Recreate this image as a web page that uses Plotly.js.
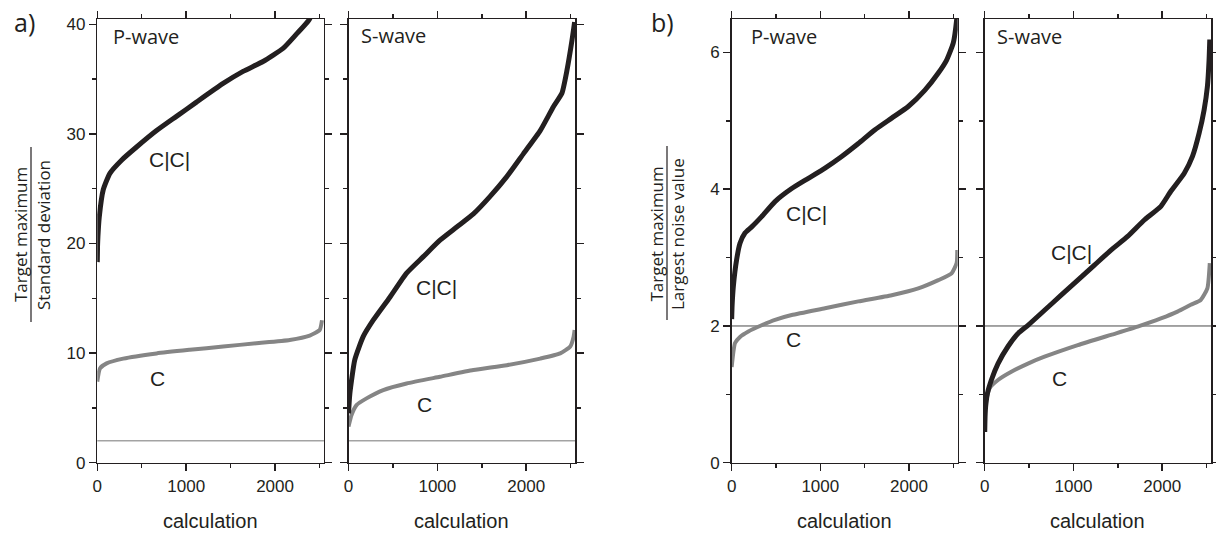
<!DOCTYPE html>
<html><head><meta charset="utf-8">
<script src="https://cdn.plot.ly/plotly-3.0.1.min.js"></script>
<style>html,body{margin:0;padding:0;background:#fff}#chart{width:1216px;height:534px}</style>
</head><body><div id="chart"></div>
<script>
// ---- Panel a: Target maximum / Standard deviation ----
const aP_CC_x = [0,3,7,22,67,142,273,442,667,891,1116,1416,1640,1865,2090,2240,2382,2450,2530];
const aP_CC_y = [18.3,19.8,20.6,22.4,24.9,26.4,27.6,28.8,30.3,31.6,32.9,34.6,35.7,36.6,37.8,39.1,40.4,41.8,45];
const aP_C_x  = [0,30,105,292,667,1041,1416,1790,2165,2390,2502,2528];
const aP_C_y  = [7.4,8.6,9.06,9.5,9.97,10.3,10.6,10.9,11.2,11.6,12.1,13.0];

const aS_CC_x = [0,15,71,165,278,466,654,842,1030,1218,1406,1594,1782,1970,2158,2308,2402,2459,2515,2545];
const aS_CC_y = [4.5,6.3,9.4,11.5,13.0,15.1,17.3,18.8,20.3,21.5,22.7,24.3,26.1,28.2,30.3,32.5,33.7,35.8,38.5,40.2];
const aS_C_x  = [0,34,90,203,391,654,1030,1406,1782,2158,2383,2496,2534,2545];
const aS_C_y  = [3.3,4.35,5.26,5.87,6.63,7.23,7.84,8.45,8.9,9.5,9.97,10.6,11.5,12.1];

// ---- Panel b: Target maximum / Largest noise value ----
const bP_CC_x = [0,5,19,56,94,150,226,338,489,677,865,1053,1241,1429,1617,1805,1992,2180,2331,2425,2500,2538,2550];
const bP_CC_y = [2.1,2.3,2.58,2.97,3.21,3.36,3.45,3.6,3.82,4.01,4.16,4.31,4.48,4.67,4.87,5.04,5.21,5.45,5.7,5.89,6.14,6.48,6.7];
const bP_C_x  = [0,38,94,188,338,489,677,1053,1429,1805,2105,2331,2481,2538,2545];
const bP_C_y  = [1.4,1.75,1.84,1.92,2.01,2.09,2.16,2.26,2.36,2.45,2.55,2.67,2.77,2.92,3.11];

const bS_CC_x = [0,7,30,75,150,262,375,487,674,861,1049,1236,1423,1610,1798,1985,2097,2247,2341,2416,2472,2509,2528,2536];
const bS_CC_y = [0.45,0.77,1.01,1.21,1.45,1.70,1.89,2.01,2.23,2.45,2.67,2.89,3.11,3.31,3.55,3.75,3.97,4.23,4.48,4.82,5.16,5.5,5.89,6.19];
const bS_C_x  = [0,19,56,150,300,487,674,1049,1423,1723,1985,2172,2322,2434,2509,2536];
const bS_C_y  = [0.62,0.92,1.09,1.21,1.33,1.45,1.55,1.72,1.87,1.99,2.11,2.21,2.31,2.38,2.55,2.92];

const thresholdA = 2;
const thresholdB = 2;
const xTicks = [0,1000,2000];

const INK = '#231f20', GREY = '#858585';
function ccTrace(x, y, xa, ya){ return {x, y, xaxis:xa, yaxis:ya, mode:'lines', line:{color:INK, width:5, shape:'spline', smoothing:0.5}, hoverinfo:'skip', showlegend:false}; }
function cTrace(x, y, xa, ya){ return {x, y, xaxis:xa, yaxis:ya, mode:'lines', line:{color:GREY, width:4, shape:'spline', smoothing:0.5}, hoverinfo:'skip', showlegend:false}; }

const data = [
  cTrace(aP_C_x, aP_C_y, 'x', 'y'),   ccTrace(aP_CC_x, aP_CC_y, 'x', 'y'),
  cTrace(aS_C_x, aS_C_y, 'x2', 'y2'), ccTrace(aS_CC_x, aS_CC_y, 'x2', 'y2'),
  cTrace(bP_C_x, bP_C_y, 'x3', 'y3'), ccTrace(bP_CC_x, bP_CC_y, 'x3', 'y3'),
  cTrace(bS_C_x, bS_C_y, 'x4', 'y4'), ccTrace(bS_CC_x, bS_CC_y, 'x4', 'y4')
];

const tickFont = {family:'Liberation Sans, Arial, sans-serif', size:17, color:INK};
function xAx(dom, anchor){ return {domain:dom, anchor, range:[0,2550], tickvals:xTicks, ticktext:xTicks.map(String),
  ticks:'outside', ticklen:7, tickwidth:1.5, tickcolor:INK,
  minor:{tickvals:[500,1500,2500], ticks:'outside', ticklen:4, tickwidth:1.5, tickcolor:INK},
  showline:true, linewidth:1.5, linecolor:INK, mirror:'ticks', showgrid:false, zeroline:false, tickfont:tickFont, fixedrange:true}; }
function yAx(anchor, range, dtick, mdtick, labels){ return {domain:[0.1335,0.9644], anchor, range, dtick, tick0:0,
  ticks:'outside', ticklen:7, tickwidth:1.5, tickcolor:INK,
  minor:{dtick:mdtick, ticks:'outside', ticklen:4, tickwidth:1.5, tickcolor:INK},
  showline:true, linewidth:1.5, linecolor:INK, mirror:'ticks', showgrid:false, zeroline:false,
  showticklabels:labels, tickfont:tickFont, fixedrange:true}; }

const lblFont = {family:'Open Sans, sans-serif', size:20, color:INK};
const cFont = {family:'Liberation Sans, Arial, sans-serif', size:21, color:INK};
const titFont = {family:'Open Sans, sans-serif', size:17, color:INK};
const xtFont = {family:'Liberation Sans, Arial, sans-serif', size:20, color:INK};

function ann(text, x, y, xref, yref, font, xanchor, extra){ return Object.assign({text, x, y, xref, yref, font, xanchor:xanchor||'center', yanchor:'middle', showarrow:false}, extra||{}); }

const annotations = [
  ann('a)', 24/1216, 1-22/534, 'paper', 'paper', {family:'Open Sans, sans-serif', size:25, color:INK}),
  ann('b)', 662/1216, 1-22/534, 'paper', 'paper', {family:'Open Sans, sans-serif', size:25, color:INK}),
  ann('P-wave', 150, 38.9, 'x', 'y', lblFont, 'left'),
  ann('C|C|', 807, 27.7, 'x', 'y', cFont),
  ann('C', 672, 7.7, 'x', 'y', cFont),
  ann('S-wave', 122, 39.0, 'x2', 'y2', lblFont, 'left'),
  ann('C|C|', 988, 16.0, 'x2', 'y2', cFont),
  ann('C', 859, 5.35, 'x2', 'y2', cFont),
  ann('P-wave', 190, 6.23, 'x3', 'y3', lblFont, 'left'),
  ann('C|C|', 843, 3.65, 'x3', 'y3', cFont),
  ann('C', 702, 1.80, 'x3', 'y3', cFont),
  ann('S-wave', 115, 6.24, 'x4', 'y4', lblFont, 'left'),
  ann('C|C|', 979, 3.07, 'x4', 'y4', cFont),
  ann('C', 843, 1.23, 'x4', 'y4', cFont),
  ann('Target maximum', 20/1216, 1-235/534, 'paper', 'paper', titFont, 'center', {textangle:-90}),
  ann('Standard deviation', 43/1216, 1-235/534, 'paper', 'paper', titFont, 'center', {textangle:-90}),
  ann('Target maximum', 656.5/1216, 1-234/534, 'paper', 'paper', titFont, 'center', {textangle:-90}),
  ann('Largest noise value', 678/1216, 1-234/534, 'paper', 'paper', titFont, 'center', {textangle:-90}),
  ann('calculation', 0.5, 1-521/534, 'x domain', 'paper', xtFont),
  ann('calculation', 0.5, 1-521/534, 'x2 domain', 'paper', xtFont),
  ann('calculation', 0.5, 1-521/534, 'x3 domain', 'paper', xtFont),
  ann('calculation', 0.5, 1-521/534, 'x4 domain', 'paper', xtFont)
];

const shapes = [
  {type:'line', xref:'x domain', yref:'y', x0:0, x1:1, y0:thresholdA, y1:thresholdA, line:{color:'#a3a3a3', width:1.5}, layer:'below'},
  {type:'line', xref:'x2 domain', yref:'y2', x0:0, x1:1, y0:thresholdA, y1:thresholdA, line:{color:'#a3a3a3', width:1.5}, layer:'below'},
  {type:'line', xref:'x3 domain', yref:'y3', x0:0, x1:1, y0:thresholdB, y1:thresholdB, line:{color:'#4a4a4a', width:1}, layer:'below'},
  {type:'line', xref:'x4 domain', yref:'y4', x0:0, x1:1, y0:thresholdB, y1:thresholdB, line:{color:'#4a4a4a', width:1}, layer:'below'},
  {type:'line', xref:'paper', yref:'paper', x0:31/1216, x1:31/1216, y0:1-147/534, y1:1-322/534, line:{color:INK, width:1.2}},
  {type:'line', xref:'paper', yref:'paper', x0:667/1216, x1:667/1216, y0:1-146/534, y1:1-320/534, line:{color:INK, width:1.2}}
];

const layout = {
  width:1216, height:534, margin:{l:0, r:0, t:0, b:0}, paper_bgcolor:'#fff', plot_bgcolor:'#fff',
  showlegend:false,
  xaxis: xAx([0.0800,0.2664], 'y'),
  xaxis2: xAx([0.2866,0.4729], 'y2'),
  xaxis3: xAx([0.6017,0.7876], 'y3'),
  xaxis4: xAx([0.8098,0.9959], 'y4'),
  yaxis: yAx('x', [0,40.48], 10, 5, true),
  yaxis2: yAx('x2', [0,40.48], 10, 5, false),
  yaxis3: yAx('x3', [0,6.49], 2, 1, true),
  yaxis4: yAx('x4', [0,6.49], 2, 1, false),
  annotations, shapes
};

Plotly.newPlot('chart', data, layout, {staticPlot:true, displayModeBar:false});
</script></body></html>
